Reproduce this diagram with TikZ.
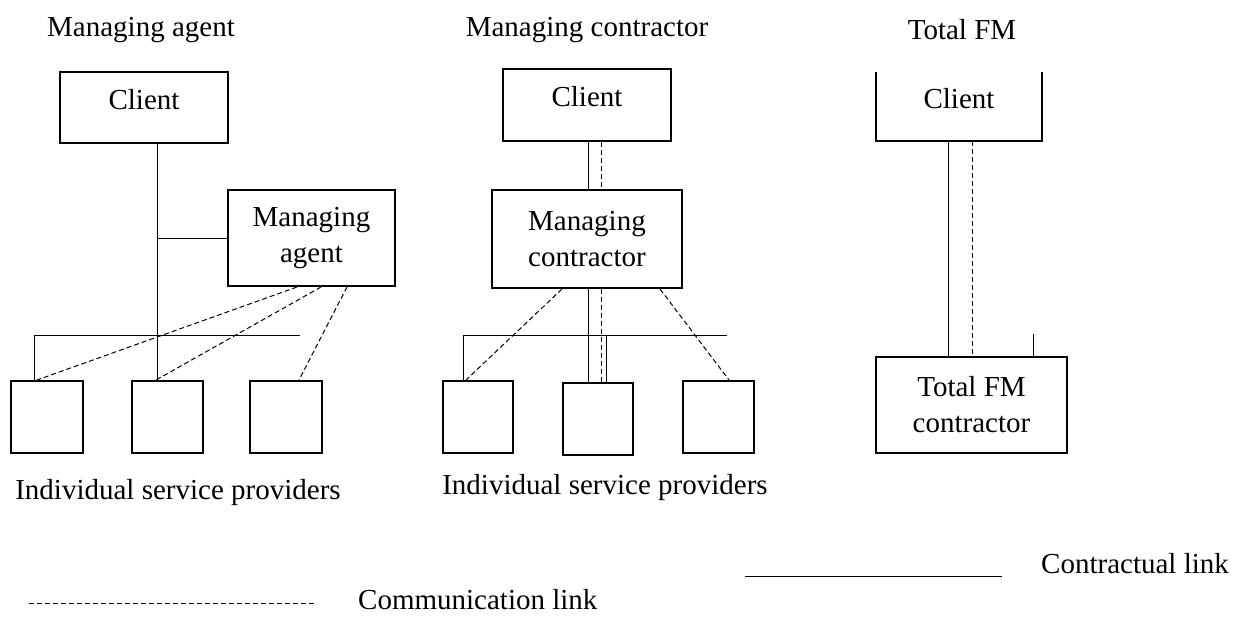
\documentclass[tikz,border=0pt]{standalone}
\usepackage{fontspec}
\setmainfont{Liberation Serif}
\tikzstyle{box} = [draw, line width=2pt, inner sep=0pt, align=center]
\tikzstyle{caption} = [inner sep=0pt]
\tikzstyle{contract} = [draw, line width=1pt]
\tikzstyle{comm} = [draw, line width=1pt, dash pattern=on 5pt off 3pt]

\begin{document}
\begin{tikzpicture}[x=1pt, y=-1pt, font=\fontsize{29pt}{36pt}\selectfont]
      \useasboundingbox (0,0) rectangle (1243,630);
      %captions
      \foreach \nodename/\x/\y/\words in {
        titleA/141/30/Managing agent,
        titleB/587/30/Managing contractor,
        titleC/962/30/Total FM,
        provA/178/493/Individual service providers,
        provB/605/488/Individual service providers}
      {
        \node[caption] (\nodename) at (\x,\y) {\words};
      };
      %boxes
      \foreach \nodename/\x/\y/\w/\h in {
        clientA/144/107.5/168/71,
        provA1/47/417/72/72,
        provA2/167.5/417/71/72,
        provA3/286/417/72/72,
        clientB/587/105/168/72,
        provB1/478/417/70/72,
        provB2/598/419/70/72,
        provB3/718.5/417/71/72}
      {
        \node[box, minimum width=\w, minimum height=\h] (\nodename) at (\x,\y) {};
      };
      \node[box, minimum width=167, minimum height=96] (agent) at (311.5,238) {Managing\\agent};
      \node[box, minimum width=190, minimum height=98] (contractor) at (587,239) {Managing\\contractor};
      \node[box, minimum width=191, minimum height=96] (totalfm) at (971.5,405) {Total FM\\contractor};
      \node[minimum width=166, minimum height=69, inner sep=0pt] (clientC) at (959,106.5) {};
      \draw[line width=2pt] (clientC.north west) -- (clientC.south west) -- (clientC.south east) -- (clientC.north east);
      \foreach \nodename in {clientA, clientB, clientC}
      {
        \node[caption] (\nodename-text) at ([yshift=8]\nodename.center) {Client};
      };

      %managing agent
      \coordinate (trunkA) at (157,335);
      \coordinate (busAleft) at (34,335);
      \coordinate (busAright) at (300,335);
      \draw[contract] (trunkA |- clientA.south) -- (trunkA |- provA2.north);
      \draw[contract] (trunkA |- agent.west) -- (agent.west);
      \draw[contract] (busAleft |- provA1.north) -- (busAleft) -- (busAright);
      \foreach \startoff/\endnode/\endoff in {70/provA1/27, 94/provA2/25, 120/provA3/50}
      {
        \draw[comm] ([xshift=\startoff]agent.south west) -- ([xshift=\endoff]\endnode.north west);
      };

      %managing contractor
      \coordinate (trunkB) at (588,335);
      \coordinate (commB) at (601,335);
      \coordinate (dropB) at (606,335);
      \coordinate (busBleft) at (463,335);
      \coordinate (busBright) at (727,335);
      \draw[contract] (trunkB |- clientB.south) -- (trunkB |- contractor.north);
      \draw[comm] (commB |- clientB.south) -- (commB |- contractor.north);
      \draw[contract] (trunkB |- contractor.south) -- (trunkB |- provB2.north);
      \draw[comm] (commB |- contractor.south) -- (commB |- provB2.north);
      \draw[contract] (dropB) -- (dropB |- provB2.north);
      \draw[contract] (busBleft |- provB1.north) -- (busBleft) -- (busBright);
      \foreach \startoff/\endnode/\endoff in {71/provB1/24, 169/provB3/47}
      {
        \draw[comm] ([xshift=\startoff]contractor.south west) -- ([xshift=\endoff]\endnode.north west);
      };

      %total FM
      \coordinate (trunkC) at (948,200);
      \coordinate (commC) at (972,200);
      \coordinate (stubC) at (1033,334);
      \draw[contract] (trunkC |- clientC.south) -- (trunkC |- totalfm.north);
      \draw[comm] (commC |- clientC.south) -- (commC |- totalfm.north);
      \draw[contract] (stubC) -- (stubC |- totalfm.north);

      %key
      \coordinate (contractL) at (745,576);
      \coordinate (contractR) at (1002,576);
      \draw[contract] (contractL) -- (contractR);
      \node[caption, anchor=west] (contractkey) at (1041,564) {Contractual link};
      \coordinate (commL) at (29,603);
      \coordinate (commR) at (315,603);
      \draw[comm] (commL) -- (commR);
      \node[caption, anchor=west] (commkey) at (358,600) {Communication link};
\end{tikzpicture}
\end{document}
